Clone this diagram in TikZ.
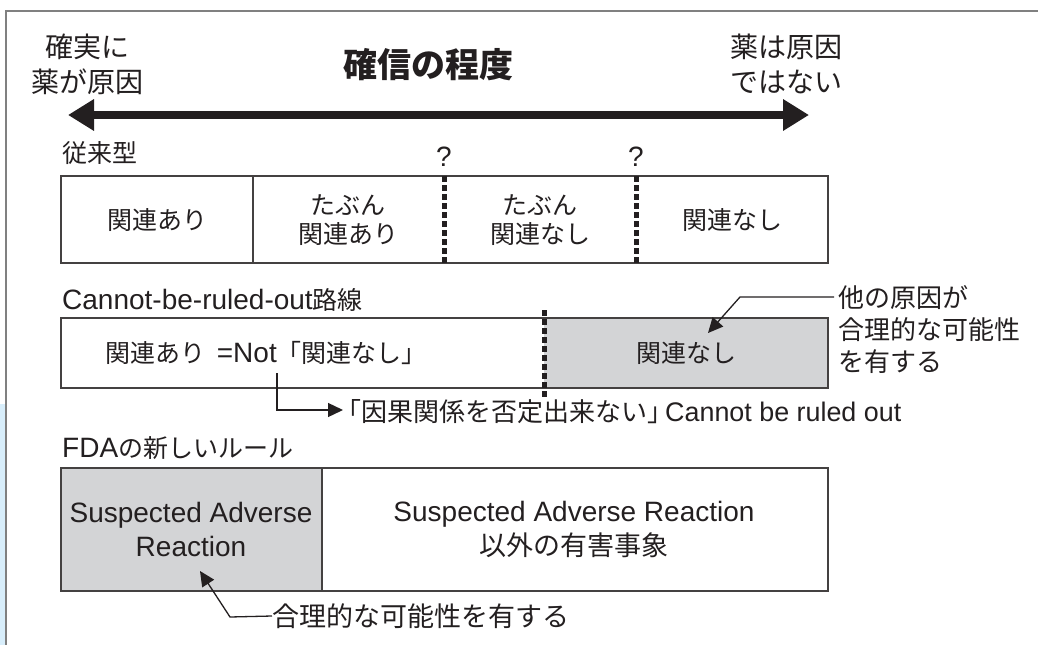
\documentclass[tikz,border=0pt]{standalone}
\usepackage{fontspec}
\setmainfont{Liberation Sans}[Scale=1.12]
\newfontfamily\jpf{Noto Sans CJK JP}
\newcommand\jt[1]{{\jpf #1}}
\usetikzlibrary{arrows.meta}
\definecolor{ink}{HTML}{231F20}
\definecolor{boxgray}{HTML}{D3D4D6}
\definecolor{framegray}{HTML}{808080}
\definecolor{strip}{HTML}{D8EEFB}
\tikzset{
  lbl/.style={font=\fontsize{25}{30}\selectfont, text=ink, inner sep=0pt},
  cell/.style={lbl, align=center, font=\fontsize{25}{29}\selectfont},
  boxline/.style={draw=ink!85, line width=1.4pt},
  divider/.style={line width=5pt, dash pattern=on 6pt off 3pt, draw=ink},
  callout/.style={draw=ink, line width=1.3pt, -{Triangle[length=15pt,width=14pt]}},
  bigarrow/.style={draw=ink, line width=8pt, {Triangle[length=26pt,width=30pt]}-{Triangle[length=26pt,width=30pt]}},
}
\begin{document}
\begin{tikzpicture}[x=1pt,y=-1pt]
\useasboundingbox (0,0) rectangle (1038,645);
% frame
\fill[strip] (0,404) rectangle (5,645);
\draw[framegray, line width=2pt] (1038,11) -- (6,11) -- (6,645);

% header
\node[cell, font=\fontsize{28}{35}\selectfont\jpf] (lt) at (87,64) {確実に\\薬が原因};
\node[cell, font=\fontsize{28}{35}\selectfont\jpf] (rt) at (786,64) {薬は原因\\ではない};
\node[lbl, font=\fontsize{34}{40}\selectfont\jpf\bfseries] (title) at (428,65) {確信の程度};
\coordinate (aL) at (68,115);
\coordinate (aR) at (809,115);
\draw[bigarrow] (aL) -- (aR);

% box 1
\node[lbl, anchor=west] (h1) at (62,153) {\jt{従来型}};
\draw[boxline] (61,176) rectangle (828,263);
\draw[boxline] (253,176) -- (253,263);
\coordinate (d1t) at (444,176); \coordinate (d1b) at (444,263);
\coordinate (d2t) at (636,176); \coordinate (d2b) at (636,263);
\draw[divider] (d1t) -- (d1b);
\draw[divider] (d2t) -- (d2b);
\node[lbl] (q1) at (444,157) {?};
\node[lbl] (q2) at (636,157) {?};
\node[cell, font=\fontsize{25}{29}\selectfont\jpf] (c1) at (157,220) {関連あり};
\node[cell, font=\fontsize{25}{29}\selectfont\jpf] (c2) at (348,220) {たぶん\\関連あり};
\node[cell, font=\fontsize{25}{29}\selectfont\jpf] (c3) at (540,220) {たぶん\\関連なし};
\node[cell, font=\fontsize{25}{29}\selectfont\jpf] (c4) at (732,220) {関連なし};

% box 2
\node[lbl, anchor=west] (h2) at (62,300) {Cannot-be-ruled-out\jt{路線}};
\fill[boxgray] (544,318) rectangle (828,388);
\draw[boxline] (61,318) rectangle (828,388);
\coordinate (d3t) at (544,310); \coordinate (d3b) at (544,397);
\draw[divider] (d3t) -- (d3b);
\node[cell, anchor=west] (r1) at (105,353) {\jt{関連あり}};
\node[cell, anchor=east] (r2) at (427,353) {=Not\jt{「関連なし」}};
\node[cell, font=\fontsize{25}{29}\selectfont\jpf] (r3) at (686,353) {関連なし};
\coordinate (notb) at (277,373);
\coordinate (notc) at (277,410);
\coordinate (nott) at (343,410);
\draw[callout] (notb) -- (notc) -- (nott);
\node[lbl, anchor=west, font=\fontsize{24}{30}\selectfont] (cbro) at (335,412) {{\jpf\fontsize{26}{30}\selectfont 「因果関係を否定出来ない」}\hspace{-8pt}Cannot be ruled out};

% callout right
\node[lbl, anchor=west, align=left, font=\fontsize{26}{32}\selectfont\jpf] (oth) at (838,330) {他の原因が\\合理的な可能性\\を有する};
\coordinate (o1) at (834,297);
\coordinate (o2) at (740,297);
\coordinate (o3) at (708,333);
\draw[callout] (o1) -- (o2) -- (o3);

% box 3
\node[lbl, anchor=west] (h3) at (62,448) {FDA\jt{の新しいルール}};
\fill[boxgray] (61,468) rectangle (322,591);
\draw[boxline] (61,468) rectangle (828,591);
\draw[boxline] (322,468) -- (322,591);
\node[cell, font=\fontsize{25}{34}\selectfont] (s1) at (191,529) {Suspected Adverse\\Reaction};
\node[cell, font=\fontsize{25}{34}\selectfont] (s2) at (574,529) {Suspected Adverse Reaction\\{\jpf\fontsize{27}{34}\selectfont 以外の有害事象}};
\node[lbl, anchor=west, font=\fontsize{27}{30}\selectfont\jpf] (gr) at (272,616) {合理的な可能性を有する};
\coordinate (g2) at (230,617);
\coordinate (g3) at (200,571);
\draw[callout] (gr.west) -- (g2) -- (g3);
\end{tikzpicture}
\end{document}
